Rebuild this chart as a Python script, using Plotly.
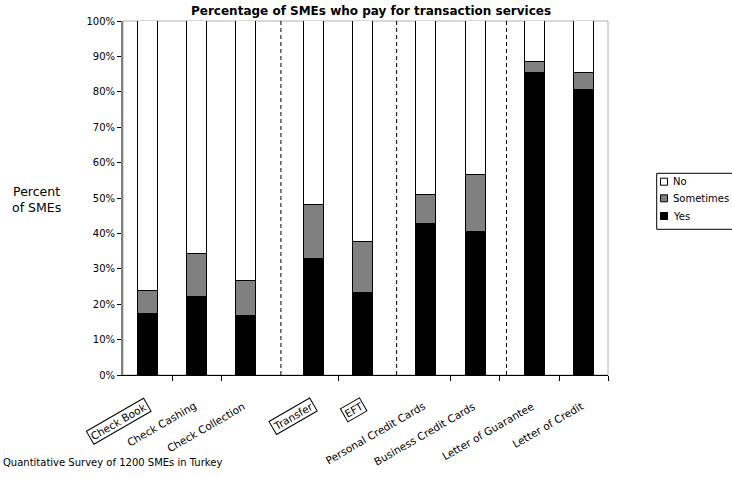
import plotly.graph_objects as go

# Share of SMEs paying for each transaction service (percent of respondents)
categories = ["Check Book", "Check Cashing", "Check Collection", "Transfer", "EFT",
              "Personal Credit Cards", "Business Credit Cards",
              "Letter of Guarantee", "Letter of Credit"]
yes = [17.2, 21.9, 16.6, 32.9, 23.2, 42.6, 40.4, 85.3, 80.5]
sometimes = [6.5, 12.4, 10.0, 15.1, 14.3, 8.2, 16.2, 3.2, 4.9]
no = [76.3, 65.7, 73.4, 52.0, 62.5, 49.2, 43.4, 11.5, 14.6]
boxed_labels = ["Check Book", "Transfer", "EFT"]
y_ticks = list(range(0, 101, 10))
y_ticktext = [f"{v}%" for v in y_ticks]

# Category slot positions along the x axis (groups separated by dashed rules)
x_pos = [0.51, 1.51, 2.51, 3.90, 4.90, 6.18, 7.19, 8.40, 9.40]
group_dividers = [3.22, 5.58, 7.82]
slot_edges = [1.0, 2.0, 4.39, 6.68, 7.68, 8.91, 9.89]
x_range = [0, 9.89]

series = [("Yes", yes, "#000000"), ("Sometimes", sometimes, "#808080"), ("No", no, "#ffffff")]

# plot area in pixels
L, R, T, B = 123, 608, 21, 375
W, H = R - L, B - T


def px(x):
    return (x - L) / W


def py(y):
    return (B - y) / H


FONT = "DejaVu Sans, Verdana, sans-serif"

fig = go.Figure()
for name, vals, color in series:
    fig.add_trace(go.Bar(
        x=x_pos, y=vals, name=name, width=0.408,
        marker=dict(color=color, line=dict(color="#000000", width=1)),
        showlegend=False,
    ))

shapes = [
    # plot area frame
    dict(type="rect", xref="paper", yref="paper", x0=0, x1=1, y0=0, y1=1,
         line=dict(color="#b0b0b0", width=1), layer="below"),
]
for d in group_dividers:
    shapes.append(dict(type="line", xref="x", yref="y", x0=d, x1=d, y0=0, y1=100,
                       line=dict(color="#000000", width=1, dash="4px,3px")))

annotations = []
for cat, xp in zip(categories, x_pos):
    annotations.append(dict(
        x=xp, xref="x", y=0, yref="paper", xshift=4, yshift=-22,
        text=cat, showarrow=False, textangle=-30,
        xanchor="right", yanchor="top",
        font=dict(family=FONT, size=10.5, color="#000000"),
        bordercolor="#000000" if cat in boxed_labels else "rgba(0,0,0,0)",
        borderwidth=1, borderpad=1,
    ))

# title, axis caption, source note
annotations.append(dict(x=px(371), y=py(11), xref="paper", yref="paper",
                        text="<b>Percentage of SMEs who pay for transaction services</b>",
                        showarrow=False, xanchor="center", yanchor="middle",
                        font=dict(family=FONT, size=12, color="#000000")))
annotations.append(dict(x=px(36), y=py(199.5), xref="paper", yref="paper",
                        text="Percent<br>of SMEs", showarrow=False, align="center",
                        xanchor="center", yanchor="middle",
                        font=dict(family=FONT, size=12.5, color="#000000")))
annotations.append(dict(x=px(1), y=py(462), xref="paper", yref="paper",
                        text="Quantitative Survey of 1200 SMEs in Turkey", showarrow=False,
                        xanchor="left", yanchor="middle",
                        font=dict(family=FONT, size=10, color="#000000")))

# legend box
shapes.append(dict(type="rect", xref="paper", yref="paper",
                   x0=px(656.7), x1=px(760), y0=py(229.3), y1=py(173.3),
                   line=dict(color="#000000", width=1), fillcolor="#ffffff"))
legend_rows = [181.7, 198.3, 216.0]
for (name, _, color), yc in zip(reversed(series), legend_rows):
    shapes.append(dict(type="rect", xref="paper", yref="paper",
                       x0=px(660.5), x1=px(667.5), y0=py(yc + 3.5), y1=py(yc - 3.5),
                       line=dict(color="#000000", width=1), fillcolor=color))
    annotations.append(dict(x=px(671), y=py(yc), xref="paper", yref="paper",
                            text=name, showarrow=False, xanchor="left", yanchor="middle",
                            font=dict(family=FONT, size=10, color="#000000")))

fig.update_layout(
    width=732, height=477,
    margin=dict(l=L, r=732 - R, t=T, b=477 - B, autoexpand=False),
    barmode="stack", bargap=0,
    plot_bgcolor="#ffffff", paper_bgcolor="#ffffff",
    font=dict(family=FONT, size=10, color="#000000"),
    showlegend=False,
    shapes=shapes,
    annotations=annotations,
    xaxis=dict(range=x_range, tickmode="array", tickvals=slot_edges,
               showticklabels=False, ticks="outside", ticklen=5, tickcolor="#000000",
               showline=True, linecolor="#000000", linewidth=1,
               showgrid=False, zeroline=False, fixedrange=True),
    yaxis=dict(range=[0, 100], tickmode="array", tickvals=y_ticks, ticktext=y_ticktext,
               ticks="outside", ticklen=4, tickcolor="#000000",
               showline=True, linecolor="#808080", linewidth=2,
               showgrid=False, zeroline=False, fixedrange=True,
               tickfont=dict(family=FONT, size=10)),
)

fig.write_html("out.html", config={"displayModeBar": False})
